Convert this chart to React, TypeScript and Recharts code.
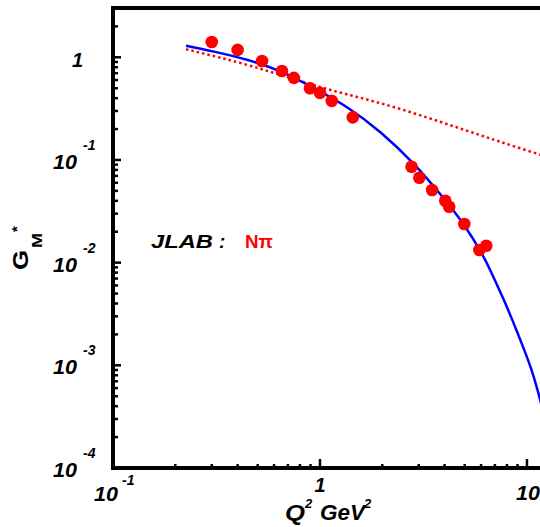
import React from 'react';
import { ComposedChart, XAxis, YAxis, Line, Scatter, ReferenceLine } from 'recharts';

const W = 540;
const H = 527;
const X_MIN = 0.1;
const X_MAX = 11.56;
const Y_MIN = 1e-4;
const Y_MAX = 3.02;

// JLAB N-pi data points
const dataQ2 = [0.30, 0.40, 0.525, 0.655, 0.748, 0.895, 1.0, 1.14, 1.44, 2.77, 3.02, 3.48, 4.03, 4.21, 4.98, 5.89, 6.36];
const dataGM = [1.41, 1.18, 0.92, 0.736, 0.63, 0.50, 0.45, 0.376, 0.26, 0.086, 0.067, 0.051, 0.040, 0.035, 0.0238, 0.0133, 0.0146];

// blue solid curve
const fitQ2 = [0.2254, 0.3076, 0.4477, 0.648, 0.935, 1.361, 1.971, 2.845, 3.842, 4.963, 5.995, 6.70, 7.63, 8.53, 9.53, 10.45, 11.26, 11.68];
const fitGM = [1.297, 1.136, 0.941, 0.724, 0.500, 0.323, 0.1844, 0.0912, 0.0455, 0.02329, 0.01265, 0.00817, 0.00459, 0.00271, 0.001548, 0.000937, 0.000571, 0.00043];

// red dotted curve
const dotQ2 = [0.2254, 0.464, 1.0, 1.97, 3.84, 6.70, 11.68];
const dotGM = [1.196, 0.823, 0.514, 0.356, 0.234, 0.161, 0.112];

const xDecades = [0.1, 1, 10];
const yDecades = [1e-4, 1e-3, 1e-2, 0.1, 1];
const mults = [1, 2, 3, 4, 5, 6, 7, 8, 9];

const points = dataQ2.map((x, i) => ({ x, y: dataGM[i] }));
const fitData = fitQ2.map((x, i) => ({ x, y: fitGM[i] }));
const dotData = dotQ2.map((x, i) => ({ x, y: dotGM[i] }));

const xTicks = xDecades.flatMap((d) => mults.map((m) => d * m)).filter((v) => v <= X_MAX);
const yTicks = yDecades.flatMap((d) => mults.map((m) => d * m)).filter((v) => v <= Y_MAX);

const FONT = 'Liberation Sans, Arial, Helvetica, sans-serif';

const isMajor = (v: number) => {
  const lg = Math.log10(v);
  return Math.abs(lg - Math.round(lg)) < 1e-6;
};

const labelStyle = {
  fontFamily: FONT,
  fontWeight: 'bold' as const,
  fontStyle: 'italic' as const,
  fill: '#000',
};

const YTick = (props: any) => {
  const { x, y, payload } = props;
  const v = payload.value;
  const major = isMajor(v);
  const e = Math.round(Math.log10(v));
  return (
    <g>
      <line x1={x} x2={x + (major ? 8 : 5)} y1={y} y2={y} stroke="#000" strokeWidth={2.5} />
      {major && e === 0 && (
        <text x={x - 30} y={y + 10} textAnchor="end" fontSize={20} {...labelStyle}>1</text>
      )}
      {major && e !== 0 && (
        <g>
          <text x={x - 60} y={y + 9} fontSize={20} textLength={24} lengthAdjust="spacingAndGlyphs" {...labelStyle}>10</text>
          <text x={x - 30} y={y - 10} fontSize={14} {...labelStyle}>{'-' + Math.abs(e)}</text>
        </g>
      )}
    </g>
  );
};

const XTick = (props: any) => {
  const { x, y, payload } = props;
  const v = payload.value;
  const major = isMajor(v);
  const e = Math.round(Math.log10(v));
  return (
    <g>
      <line x1={x} x2={x} y1={y} y2={y - (major ? 9 : 4)} stroke="#000" strokeWidth={2.5} />
      {major && e === -1 && (
        <g>
          <text x={x - 19} y={y + 33} fontSize={20} textLength={24} lengthAdjust="spacingAndGlyphs" {...labelStyle}>10</text>
          <text x={x + 9} y={y + 17} fontSize={14} {...labelStyle}>-1</text>
        </g>
      )}
      {major && e === 0 && (
        <text x={x} y={y + 24} textAnchor="middle" fontSize={20} {...labelStyle}>1</text>
      )}
      {major && e === 1 && (
        <text x={x - 11} y={y + 32} fontSize={20} textLength={24} lengthAdjust="spacingAndGlyphs" {...labelStyle}>10</text>
      )}
    </g>
  );
};

const Dot = (p: any) => <circle cx={p.cx} cy={p.cy} r={6.3} fill="#ff0000" />;

export default function App() {
  return (
    <div style={{ position: 'absolute', left: 0, top: 0, width: W, height: H, background: '#fff' }}>
      <ComposedChart width={W} height={H} margin={{ top: 8, right: 0, bottom: 0, left: 0 }}>
        <XAxis
          dataKey="x"
          type="number"
          scale="log"
          domain={[X_MIN, X_MAX]}
          allowDataOverflow
          ticks={xTicks}
          interval={0}
          tick={<XTick />}
          tickLine={false}
          tickSize={0}
          tickMargin={0}
          height={59}
          axisLine={{ stroke: '#000', strokeWidth: 4, strokeLinecap: 'square' }}
        />
        <YAxis
          dataKey="y"
          type="number"
          scale="log"
          domain={[Y_MIN, Y_MAX]}
          allowDataOverflow
          ticks={yTicks}
          interval={0}
          tick={<YTick />}
          tickLine={false}
          tickSize={0}
          tickMargin={0}
          width={113}
          axisLine={{ stroke: '#000', strokeWidth: 4, strokeLinecap: 'square' }}
        />
        <ReferenceLine y={Y_MAX} stroke="#000" strokeWidth={4} ifOverflow="visible" />
        <Line
          data={dotData}
          dataKey="y"
          type="natural"
          stroke="#ff0000"
          strokeWidth={2.5}
          strokeDasharray="2.5 3"
          dot={false}
          activeDot={false}
          isAnimationActive={false}
        />
        <Line
          data={fitData}
          dataKey="y"
          type="natural"
          stroke="#0000ff"
          strokeWidth={2.5}
          dot={false}
          activeDot={false}
          isAnimationActive={false}
        />
        <Scatter data={points} dataKey="y" shape={<Dot />} isAnimationActive={false} />
      </ComposedChart>
      <svg
        width={W}
        height={H}
        style={{ position: 'absolute', left: 0, top: 0, pointerEvents: 'none' }}
      >
        {/* Y axis title G_M^* */}
        <g transform="rotate(-90)" fontFamily={FONT} fontWeight="bold" fill="#000">
          <text x={-270} y={28} fontSize={22} textLength={20} lengthAdjust="spacingAndGlyphs">G</text>
          <text x={-248} y={42} fontSize={15} textLength={15} lengthAdjust="spacingAndGlyphs">M</text>
          <text x={-232} y={22} fontSize={15}>*</text>
        </g>
        {/* X axis title */}
        <g {...labelStyle}>
          <text x={285} y={520} fontSize={22} textLength={20} lengthAdjust="spacingAndGlyphs">Q</text>
          <text x={305} y={508} fontSize={13}>2</text>
          <text x={320} y={520} fontSize={22} textLength={45} lengthAdjust="spacingAndGlyphs">GeV</text>
          <text x={364} y={508} fontSize={13}>2</text>
        </g>
        {/* annotation */}
        <text x={151} y={248} fontSize={19} textLength={62} lengthAdjust="spacingAndGlyphs" {...labelStyle}>JLAB</text>
        <text x={219} y={248} fontSize={19} {...labelStyle}>:</text>
        <text x={245} y={248} fontSize={19} textLength={28} lengthAdjust="spacingAndGlyphs" fontFamily={FONT} fontWeight="bold" fill="#ff0000">Nπ</text>
      </svg>
    </div>
  );
}
